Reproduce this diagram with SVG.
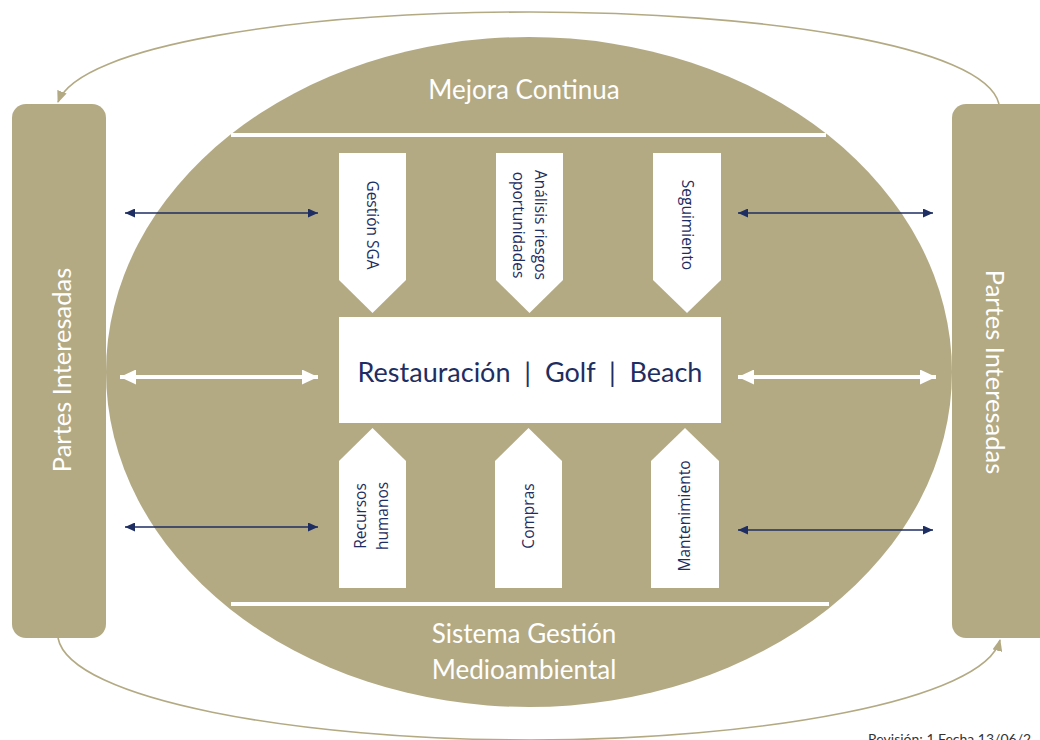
<svg xmlns="http://www.w3.org/2000/svg" width="1040" height="740" viewBox="0 0 1040 740">
<defs>
<style>
.gold{fill:#b3aa84}
.white{fill:#ffffff}
.big{font-family:Lato,"Open Sans",sans-serif;fill:#ffffff;font-size:26px}
.side{font-family:Lato,"Open Sans",sans-serif;fill:#ffffff;font-size:25.5px}
.center{font-family:Lato,"Open Sans",sans-serif;fill:#1e2e62;font-size:27px}
.small{font-family:"Open Sans",Lato,sans-serif;fill:#1e2e62;font-size:15.5px}
.curve{fill:none;stroke:#b3aa84;stroke-width:1.6}
.blue{stroke:#1e2e62;stroke-width:1.4;fill:none}
.warrow{stroke:#ffffff;stroke-width:4;fill:none}
.rev{font-family:Lato,"Open Sans",sans-serif;fill:#333333;font-size:14px}
</style>
<marker id="goldHead" markerUnits="userSpaceOnUse" markerWidth="12" markerHeight="10" refX="11" refY="5" orient="auto" viewBox="0 0 12 10">
<path d="M0,0 L12,5 L0,10 z" fill="#b3aa84"/>
</marker>
<marker id="blueHead" markerUnits="userSpaceOnUse" markerWidth="10" markerHeight="9" refX="10" refY="4.5" orient="auto-start-reverse" viewBox="0 0 10 9">
<path d="M0,0 L10,4.5 L0,9 z" fill="#1e2e62"/>
</marker>
<marker id="whiteHead" markerUnits="userSpaceOnUse" markerWidth="16" markerHeight="15" refX="16" refY="7.5" orient="auto-start-reverse" viewBox="0 0 16 15">
<path d="M0,0 L16,7.5 L0,15 z" fill="#ffffff"/>
</marker>
</defs>
<rect width="1040" height="740" fill="#ffffff"/>

<g id="ellipse">
<ellipse class="gold" cx="529" cy="372" rx="423" ry="335"/>
<rect class="white" x="231" y="133" width="595" height="4"/>
<rect class="white" x="231" y="602" width="598" height="4"/>
<text class="big" x="524" y="99" text-anchor="middle">Mejora Continua</text>
<text class="big" x="524" y="643" text-anchor="middle">Sistema Gestión</text>
<text class="big" x="524" y="679" text-anchor="middle">Medioambiental</text>
</g>

<g id="partes-izq">
<rect class="gold" x="12" y="104" width="94" height="534" rx="14"/>
<text class="side" transform="translate(62,370) rotate(-90)" text-anchor="middle" dy="0.35em">Partes Interesadas</text>
</g>

<g id="partes-der">
<rect class="gold" x="952" y="104" width="110" height="534" rx="14"/>
<text class="side" transform="translate(995,372) rotate(90)" text-anchor="middle" dy="0.35em">Partes Interesadas</text>
</g>

<g id="central">
<rect class="white" x="339" y="317" width="382" height="106"/>
<text class="center" x="530" y="382" text-anchor="middle" xml:space="preserve">Restauración  |  Golf  |  Beach</text>
</g>

<g id="gestion-sga">
<polygon class="white" points="339,153 406,153 406,280 372.5,313 339,280"/>
<text class="small" transform="translate(372,225) rotate(90)" text-anchor="middle" dy="0.35em">Gestión SGA</text>
</g>
<g id="analisis">
<polygon class="white" points="496,153 563,153 563,280 529.5,313 496,280"/>
<text class="small" transform="translate(540,225) rotate(90)" text-anchor="middle" dy="0.35em">Análisis riesgos</text>
<text class="small" transform="translate(518,225) rotate(90)" text-anchor="middle" dy="0.35em">oportunidades</text>
</g>
<g id="seguimiento">
<polygon class="white" points="653,153 721,153 721,280 687,313 653,280"/>
<text class="small" transform="translate(687,225) rotate(90)" text-anchor="middle" dy="0.35em">Seguimiento</text>
</g>

<g id="recursos">
<polygon class="white" points="339,588 406,588 406,461 372.5,428 339,461"/>
<text class="small" transform="translate(361,516) rotate(-90)" text-anchor="middle" dy="0.35em">Recursos</text>
<text class="small" transform="translate(383,516) rotate(-90)" text-anchor="middle" dy="0.35em">humanos</text>
</g>
<g id="compras">
<polygon class="white" points="495,588 562,588 562,461 528.5,428 495,461"/>
<text class="small" transform="translate(529,516) rotate(-90)" text-anchor="middle" dy="0.35em">Compras</text>
</g>
<g id="mantenimiento">
<polygon class="white" points="651,588 719,588 719,461 685,428 651,461"/>
<text class="small" transform="translate(685,516) rotate(-90)" text-anchor="middle" dy="0.35em">Mantenimiento</text>
</g>

<g id="connectors">
<path class="curve" d="M999,104 C985,45 760,12 530,12 C300,12 80,45 58,102" marker-end="url(#goldHead)"/>
<path class="curve" d="M58,638 C70,700 300,740 530,740 C760,740 985,700 1000,640" marker-end="url(#goldHead)"/>
<line class="blue" x1="125" y1="213" x2="318" y2="213" marker-start="url(#blueHead)" marker-end="url(#blueHead)"/>
<line class="blue" x1="738" y1="213" x2="933" y2="213" marker-start="url(#blueHead)" marker-end="url(#blueHead)"/>
<line class="blue" x1="125" y1="527" x2="318" y2="527" marker-start="url(#blueHead)" marker-end="url(#blueHead)"/>
<line class="blue" x1="738" y1="530" x2="933" y2="530" marker-start="url(#blueHead)" marker-end="url(#blueHead)"/>
<line class="warrow" x1="120" y1="377" x2="318" y2="377" marker-start="url(#whiteHead)" marker-end="url(#whiteHead)"/>
<line class="warrow" x1="738" y1="377" x2="936" y2="377" marker-start="url(#whiteHead)" marker-end="url(#whiteHead)"/>
</g>

<text class="rev" x="868" y="744">Revisión: 1 Fecha 13/06/2</text>
</svg>
